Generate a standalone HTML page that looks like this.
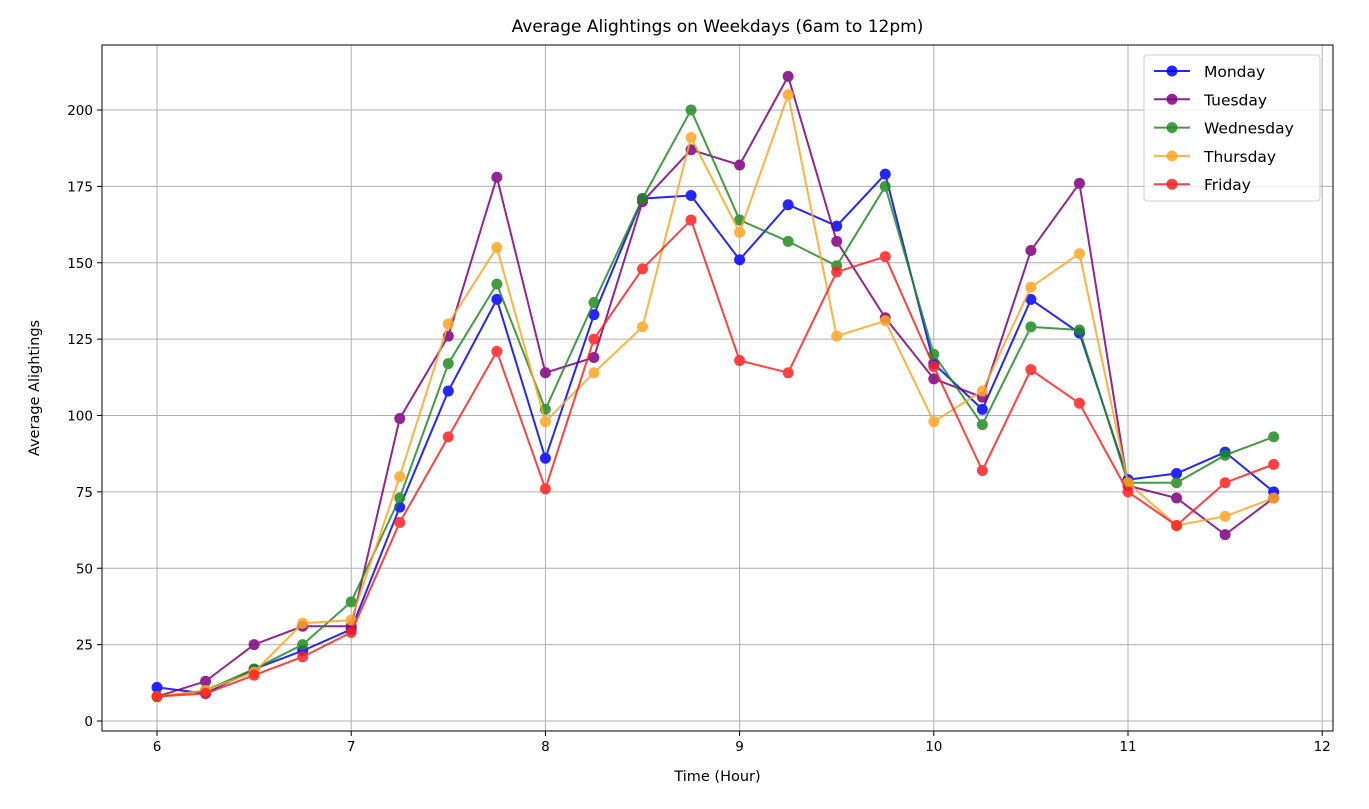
<!DOCTYPE html>
<html><head><meta charset="utf-8"><style>
body{margin:0;background:#fff;font-family:"Liberation Sans",sans-serif}
svg text{font-family:"DejaVu Sans","Liberation Sans",sans-serif}
</style></head><body>
<svg id="chart" width="1369" height="804" xmlns="http://www.w3.org/2000/svg"></svg>
<script>
const xs=[6,6.25,6.5,6.75,7,7.25,7.5,7.75,8,8.25,8.5,8.75,9,9.25,9.5,9.75,10,10.25,10.5,10.75,11,11.25,11.5,11.75];
const monday=[11,9,17,23,30,70,108,138,86,133,171,172,151,169,162,179,117,102,138,127,79,81,88,75];
const tuesday=[8,13,25,31,31,99,126,178,114,119,170,187,182,211,157,132,112,106,154,176,77,73,61,73];
const wednesday=[8,10,17,25,39,73,117,143,102,137,171,200,164,157,149,175,120,97,129,128,78,78,87,93];
const thursday=[8,10,16,32,33,80,130,155,98,114,129,191,160,205,126,131,98,108,142,153,78,64,67,73];
const friday=[8,9,15,21,29,65,93,121,76,125,148,164,118,114,147,152,116,82,115,104,75,64,78,84];
const seriesNames=["Monday","Tuesday","Wednesday","Thursday","Friday"];
const seriesColors=["#0000ff","#800080","#228b22","#ffa520","#ff2020"];
const xTicks=[6,7,8,9,10,11,12];
const yTicks=[0,25,50,75,100,125,150,175,200];

const NS="http://www.w3.org/2000/svg";
const svg=document.getElementById('chart');
const L=102,R=1333,T=45,B=731;
const X=v=>157+(v-6)*194.2;
const Y=v=>721-v*3.055;
function el(t,a,p){const e=document.createElementNS(NS,t);for(const k in a)e.setAttribute(k,a[k]);(p||svg).appendChild(e);return e;}
const grid=el('g',{});
xTicks.forEach(t=>{el('line',{x1:X(t),x2:X(t),y1:T,y2:B,stroke:'#b0b0b0','stroke-width':1},grid);
 el('line',{x1:X(t),x2:X(t),y1:B,y2:B+5,stroke:'#000'});
 const tx=el('text',{x:X(t),y:B+20,'text-anchor':'middle','font-size':13.5});tx.textContent=t;
 });
yTicks.forEach(t=>{el('line',{x1:L,x2:R,y1:Y(t),y2:Y(t),stroke:'#b0b0b0','stroke-width':1},grid);
 el('line',{x1:L-5,x2:L,y1:Y(t),y2:Y(t),stroke:'#000'});
 const tx=el('text',{x:L-9,y:Y(t)+5,'text-anchor':'end','font-size':13.5});tx.textContent=t;
 });
const data=[monday,tuesday,wednesday,thursday,friday];
data.forEach((d,i)=>{const g=el('g',{opacity:0.85});
 
 el('polyline',{points:d.map((v,j)=>X(xs[j])+','+Y(v)).join(' '),fill:'none',stroke:seriesColors[i],'stroke-width':2},g);
 d.forEach((v,j)=>{const c=el('circle',{cx:X(xs[j]),cy:Y(v),r:5.5,fill:seriesColors[i]},g);
  });});
const fr=el('rect',{x:L,y:T,width:R-L,height:B-T,fill:'none',stroke:'#000','stroke-width':1});

const title=el('text',{x:(L+R)/2,y:32,'text-anchor':'middle','font-size':17});title.textContent='Average Alightings on Weekdays (6am to 12pm)';

const xl=el('text',{x:(L+R)/2,y:781,'text-anchor':'middle','font-size':14.5});xl.textContent='Time (Hour)';

const yl=el('text',{x:39,y:388,'text-anchor':'middle','font-size':14.5,transform:'rotate(-90 39 388)'});yl.textContent='Average Alightings';

const lg=el('g',{});
el('rect',{x:1144,y:55,width:176,height:146,rx:3,fill:'#fff','fill-opacity':0.8,stroke:'#ccc'},lg);
seriesNames.forEach((n,i)=>{const yy=71+i*28.3;const g=el('g',{},lg);
 
 el('line',{x1:1154,x2:1190,y1:yy,y2:yy,stroke:seriesColors[i],'stroke-width':2,opacity:0.85},g);
 el('circle',{cx:1172,cy:yy,r:5.5,fill:seriesColors[i],opacity:0.85},g);
 const t=el('text',{x:1204,y:yy+6,'font-size':15.5},g);t.textContent=n;});
</script>
</body></html>
